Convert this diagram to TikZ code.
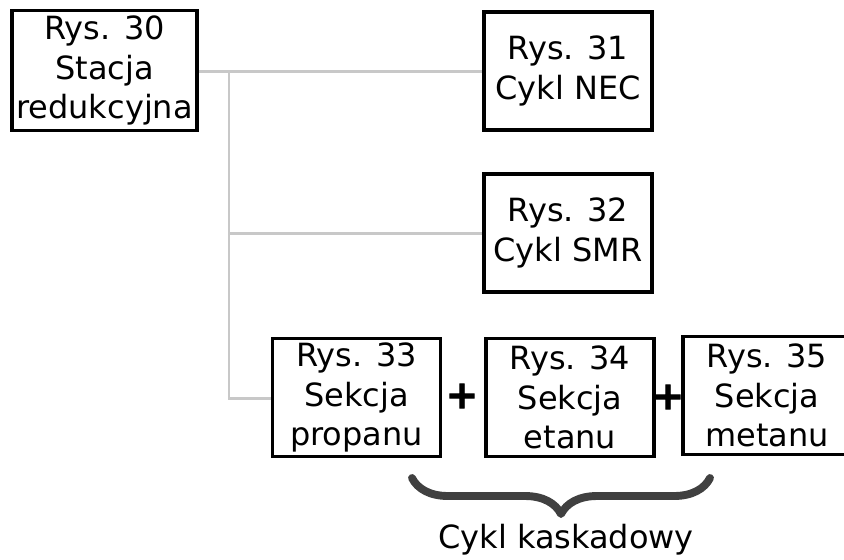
\documentclass[tikz,border=0pt]{standalone}
\usepackage{fontspec}
\setmainfont{DejaVu Sans}
\newfontfamily\plusfont[FakeBold=2.5]{DejaVu Sans Bold}
\usetikzlibrary{decorations.pathreplacing}
\definecolor{linkgray}{HTML}{C8C8C8}
\definecolor{bracegray}{HTML}{404040}

\begin{document}
\begin{tikzpicture}[x=0.02cm,y=-0.02cm,
    box/.style={draw,line width=2.2pt,fill=white,align=center,inner sep=0pt,
      minimum width=3.36cm,minimum height=2.36cm,
      font=\fontsize{18.2}{22.4}\selectfont},
    link/.style={linkgray,line width=1.7pt},
    plus/.style={font=\fontsize{22}{22}\plusfont,inner sep=0pt},
    label/.style={font=\fontsize{18.2}{22.4}\selectfont,inner sep=0pt}]
  \useasboundingbox (0,0) rectangle (844,559);
  % the grey links, drawn first so the boxes sit on top
  \coordinate (j) at (229,71);
  \coordinate (r30e) at (197,71);
  \coordinate (r31w) at (484,71);
  \coordinate (r32w) at (484,233);
  \coordinate (r33w) at (273,398);
  \draw[link] (r30e) -- (r31w);
  \draw[link] (j) -- (j |- r33w) -- (r33w);
  \draw[link] (j |- r32w) -- (r32w);
  \node[box,minimum width=3.7cm,minimum height=2.4cm] (r30) at (104.5,70.5)
    {Rys. 30\\Stacja\\redukcyjna};
  \node[box] (r31) at (568,71) {Rys. 31\\Cykl NEC};
  \node[box] (r32) at (568,233) {Rys. 32\\Cykl SMR};
  \node[box] (r33) at (356.5,397.5) {Rys. 33\\Sekcja\\propanu};
  \node[box] (r34) at (570,397.5) {Rys. 34\\Sekcja\\etanu};
  \node[box] (r35) at (767,395.5) {Rys. 35\\Sekcja\\metanu};
  \node[plus] (p1) at (462,396) {+};
  \node[plus] (p2) at (668,397) {+};
  % the cascade brace under the three sections
  \coordinate (b1) at (710,478);
  \coordinate (b2) at (412,478);
  \draw[bracegray,line width=4.5pt,line cap=round,line join=round,decorate,
    decoration={brace,amplitude=0.72cm,aspect=0.5}] (b1) -- (b2);
  \node[label] (kask) at (566,540) {Cykl kaskadowy};
\end{tikzpicture}
\end{document}
